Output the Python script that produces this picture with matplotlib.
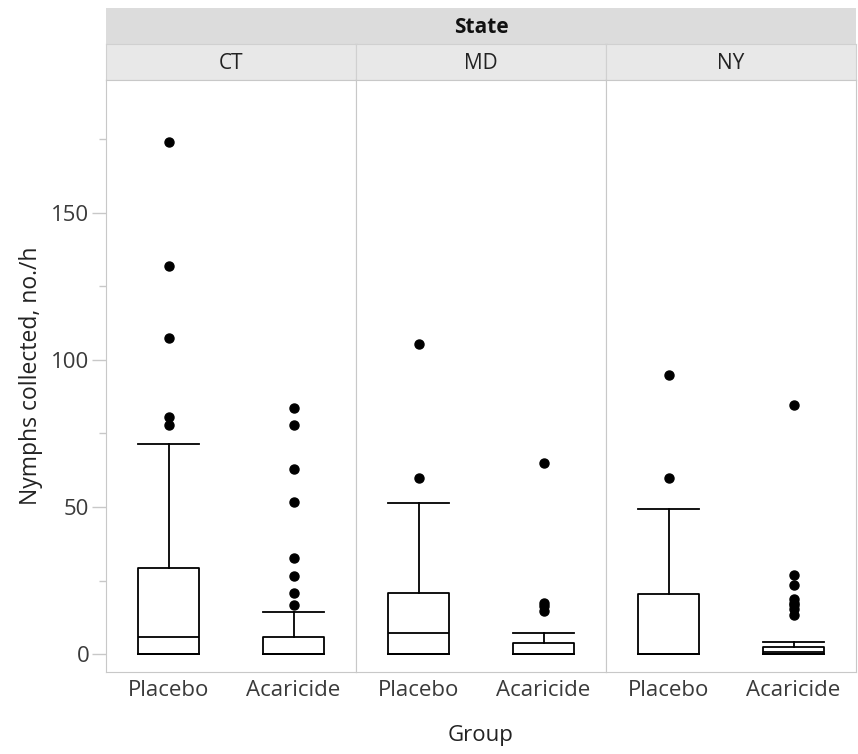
import numpy as np
import matplotlib.pyplot as plt

plt.rcParams['font.family'] = ['Open Sans', 'DejaVu Sans']

states = ['CT', 'MD', 'NY']
groups = ['Placebo', 'Acaricide']

# box statistics: (whislo, q1, med, q3, whishi)
stats = {
    'CT': [(0, 0, 5.9, 29.4, 71.3), (0, 0, 0.2, 5.9, 14.4)],
    'MD': [(0, 0, 7.1, 20.9, 51.4), (0, 0, 0.2, 4.0, 7.1)],
    'NY': [(0, 0, 0.2, 20.4, 49.4), (0, 0, 0.8, 2.6, 4.2)],
}
outliers = {
    'CT': [[173.8, 131.9, 107.5, 80.6, 77.8],
           [83.8, 77.8, 62.8, 51.6, 32.8, 26.6, 20.9, 16.9]],
    'MD': [[105.4, 59.7], [65.0, 17.5, 16.4, 14.7]],
    'NY': [[95.0, 60.0], [84.8, 26.9, 23.6, 18.7, 17.5, 16.6, 15.3, 13.2]],
}

W, H = 858, 754
fig = plt.figure(figsize=(W / 100, H / 100), dpi=100)

left, right = 106, 856
top, bottom = 80, 672
pw = (right - left) / 3
gray = '#c8c8c8'
txt = '#3a3a3a'
fs = 16

# "State" header strip
hdr = fig.add_axes([left / W, 1 - 44 / H, (right - left) / W, 36 / H])
hdr.set_facecolor('#dcdcdc')
hdr.set_xticks([]); hdr.set_yticks([])
for s in hdr.spines.values():
    s.set_visible(False)
hdr.text(0.5, 0.45, 'State', ha='center', va='center', fontsize=15,
         fontweight='bold', color='#111111', transform=hdr.transAxes)

axes = []
for i, st in enumerate(states):
    x0 = left + i * pw
    strip = fig.add_axes([x0 / W, 1 - top / H, pw / W, 36 / H])
    strip.set_facecolor('#e8e8e8')
    strip.set_xticks([]); strip.set_yticks([])
    for s in strip.spines.values():
        s.set_color('#d0d0d0')
    strip.text(0.5, 0.45, st, ha='center', va='center', fontsize=15,
               color='#222222', transform=strip.transAxes)

    ax = fig.add_axes([x0 / W, 1 - bottom / H, pw / W, (bottom - top) / H])
    axes.append(ax)
    bxp_stats = []
    for j, g in enumerate(groups):
        lo, q1, med, q3, hi = stats[st][j]
        bxp_stats.append(dict(whislo=lo, q1=q1, med=med, q3=q3, whishi=hi,
                              fliers=outliers[st][j], label=g))
    ax.bxp(bxp_stats, positions=[0, 1], widths=0.49, showfliers=True,
           boxprops=dict(color='black', linewidth=1.3),
           whiskerprops=dict(color='black', linewidth=1.3),
           capprops=dict(color='black', linewidth=1.3),
           medianprops=dict(color='black', linewidth=1.3),
           flierprops=dict(marker='o', markerfacecolor='black',
                           markeredgecolor='black', markersize=6.5))
    ax.set_xlim(-0.5, 1.5)
    ax.set_ylim(-6, 195)
    ax.set_xticks([0, 1])
    ax.set_xticklabels(groups, fontsize=fs, color=txt)
    ax.tick_params(axis='x', length=0, pad=6)
    for s in ax.spines.values():
        s.set_color(gray)
    if i == 0:
        ax.set_yticks([0, 50, 100, 150])
        ax.set_yticks([25, 75, 125, 175], minor=True)
        ax.tick_params(axis='y', labelsize=fs, labelcolor=txt, color=gray,
                       length=10, width=1, pad=2)
        ax.tick_params(axis='y', which='minor', color=gray, length=5, width=1)
        ax.set_ylabel('Nymphs collected, no./h', fontsize=16.5, color='#222222',
                      labelpad=6)
    else:
        ax.set_yticks([])

# make caps as wide as the boxes
for ax in axes:
    for ln in ax.lines:
        xd = ln.get_xdata()
        if len(xd) == 2 and ln.get_ydata()[0] == ln.get_ydata()[1] and abs(xd[1] - xd[0]) < 0.4:
            c = (xd[0] + xd[1]) / 2
            ln.set_xdata([c - 0.245, c + 0.245])

fig.text((left + right) / 2 / W, 1 - 736 / H, 'Group', ha='center', va='center',
         fontsize=16, color='#222222')

fig.savefig('out.png', dpi=100, facecolor='white')
